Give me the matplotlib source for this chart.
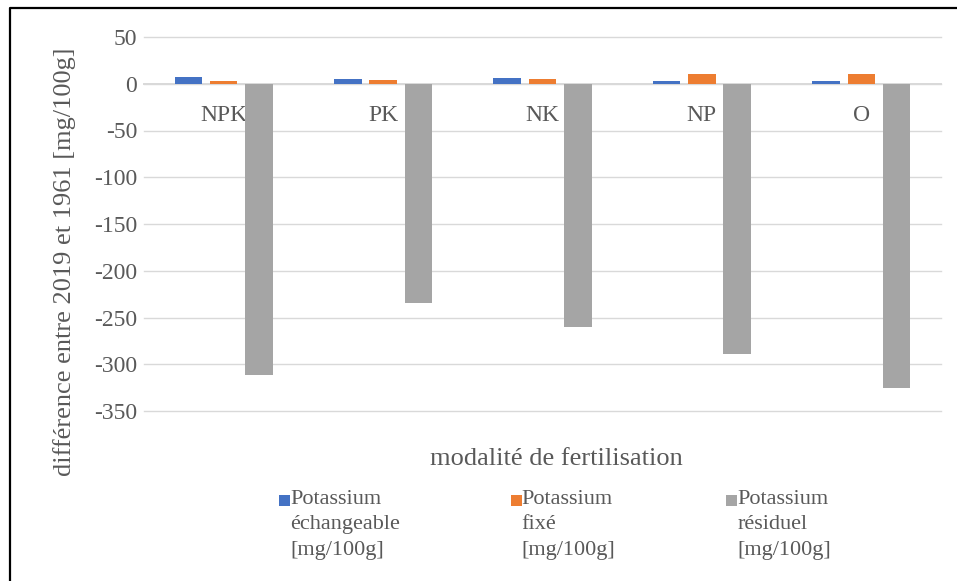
import matplotlib
matplotlib.use("Agg")
import matplotlib.pyplot as plt
import numpy as np
from matplotlib.patches import Rectangle
from matplotlib.lines import Line2D
from matplotlib.legend_handler import HandlerBase

plt.rcParams['font.family'] = ['Liberation Serif', 'DejaVu Serif']
plt.rcParams['axes.unicode_minus'] = False

categories = ["NPK", "PK", "NK", "NP", "O"]
series_names = ["Potassium\néchangeable\n[mg/100g]",
                "Potassium\nfixé\n[mg/100g]",
                "Potassium\nrésiduel\n[mg/100g]"]
echangeable = [7.5, 4.6, 6.4, 2.9, 3.3]
fixe = [3.2, 4.3, 5.3, 10.6, 10.6]
residuel = [-311, -234, -260, -289, -325]
colors = ["#4472C4", "#ED7D31", "#A5A5A5"]
yticks = [50, 0, -50, -100, -150, -200, -250, -300, -350]

TXT = "#595959"
GRID = "#D9D9D9"

W, H = 957, 581
fig = plt.figure(figsize=(W / 100, H / 100), dpi=100)
ax = fig.add_axes([144 / W, 1 - 411 / H, 797 / W, 374 / H])

x = np.arange(len(categories))
bw = 0.1725
step = 0.2215
for i, (vals, col, name) in enumerate(zip([echangeable, fixe, residuel], colors, series_names)):
    ax.bar(x + (i - 1) * step, vals, width=bw, color=col, label=name, zorder=3)

ax.set_xlim(-0.5, len(categories) - 0.5)
ax.set_ylim(min(yticks), max(yticks))
ax.set_yticks(yticks)
ax.set_yticklabels([str(v) for v in yticks])
ax.tick_params(axis='y', length=0, pad=5, labelsize=17, labelcolor=TXT)
ax.grid(axis='y', color=GRID, linewidth=1.0, zorder=0)
ax.set_axisbelow(True)
for gl in ax.get_ygridlines():
    gl.set_clip_on(False)

for s in ['left', 'right', 'top']:
    ax.spines[s].set_visible(False)
ax.spines['bottom'].set_position(('data', 0))
ax.spines['bottom'].set_color(GRID)
ax.spines['bottom'].set_linewidth(1.4)
ax.spines['bottom'].set_zorder(1)
ax.set_xticks(x)
ax.set_xticklabels(categories)
ax.tick_params(axis='x', length=0, pad=15, labelsize=17, labelcolor=TXT)

ax.set_ylabel("différence entre 2019 et 1961 [mg/100g]", fontsize=19, color=TXT)
ax.yaxis.set_label_coords(-0.085, 0.40)
ax.set_xlabel("modalité de fertilisation", fontsize=19, color=TXT)
ax.xaxis.set_label_coords(0.517, -0.10)


def handle_color(h):
    if hasattr(h, "patches"):
        return h.patches[0].get_facecolor()
    return h.get_facecolor()


class TopSquare(HandlerBase):
    def create_artists(self, legend, orig_handle, xdescent, ydescent,
                       width, height, fontsize, trans):
        s = 0.5 * fontsize
        r = Rectangle((-xdescent, 1.14 * fontsize), s, s,
                      facecolor=handle_color(orig_handle), edgecolor='none',
                      transform=trans)
        return [r]


handles, labels = ax.get_legend_handles_labels()
hm = {h: TopSquare() for h in handles}
leg = fig.legend(handles, labels, loc='upper left',
                 bbox_to_anchor=(279 / W, 1 - 490 / H), ncol=3,
                 frameon=False, fontsize=16, handlelength=0.5,
                 handletextpad=0.0, columnspacing=4.98, borderpad=0,
                 borderaxespad=0, handler_map=hm)
for t in leg.get_texts():
    t.set_color(TXT)
    t.set_linespacing(1.45)

fig.add_artist(Line2D([9.5 / W, 9.5 / W, 1.0], [0, 1 - 7.5 / H, 1 - 7.5 / H],
                      transform=fig.transFigure, color='black', linewidth=1.6))

fig.savefig("out.png", dpi=100)
